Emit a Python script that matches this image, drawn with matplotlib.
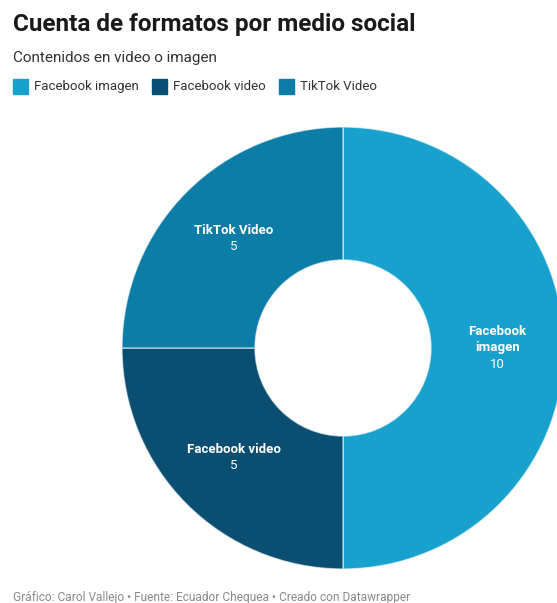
import matplotlib.pyplot as plt
import numpy as np
from matplotlib.patches import Rectangle

plt.rcParams['font.family'] = ['Roboto', 'DejaVu Sans']

# data
categories = ['Facebook imagen', 'Facebook video', 'TikTok Video']
values = [10, 5, 5]
colors = ['#18a1cd', '#0a4f72', '#0b7da7']
ring_labels = ['Facebook\nimagen', 'Facebook video', 'TikTok Video']

W, H = 557, 603
fig = plt.figure(figsize=(W / 100, H / 100), dpi=100)

# donut axes placed so center is at (343, 348) px with radius 221 px
cx, cy, R = 343, 348, 221
ax = fig.add_axes([(cx - R) / W, (H - cy - R) / H, 2 * R / W, 2 * R / H])

inner = 88 / R
wedges, _ = ax.pie(values, colors=colors, startangle=90, counterclock=False,
                   radius=1, wedgeprops=dict(width=1 - inner, edgecolor=(1, 1, 1, 0.6),
                                             linewidth=1.0))
ax.set_xlim(-1, 1)
ax.set_ylim(-1, 1)
ax.set_aspect('equal')
ax.axis('off')

mid_r = (1 + inner) / 2
step = 16 / R
for w, lab, v in zip(wedges, ring_labels, values):
    ang = np.deg2rad((w.theta1 + w.theta2) / 2)
    x, y = mid_r * np.cos(ang), mid_r * np.sin(ang)
    lines = lab.split('\n')
    n = len(lines) + 1
    for i, line in enumerate(lines):
        ax.text(x, y + step * ((n - 1) / 2 - i), line, ha='center', va='center',
                color='white', fontsize=9.5, fontweight='bold')
    ax.text(x, y + step * ((n - 1) / 2 - len(lines)), str(v), ha='center',
            va='center', color='white', fontsize=9.5)

# title, subtitle
fig.text(13 / W, 1 - 24 / H, 'Cuenta de formatos por medio social', ha='left',
         va='center', fontsize=17.5, fontweight='bold', color='#1a1a1a')
fig.text(13 / W, 1 - 58 / H, 'Contenidos en video o imagen', ha='left',
         va='center', fontsize=11, color='#333333')

# legend
lx = [13, 152, 279]
for x0, c, name in zip(lx, colors, categories):
    fig.patches.append(Rectangle((x0 / W, 1 - 94 / H), 15 / W, 15 / H,
                                 transform=fig.transFigure, color=c))
    fig.text((x0 + 21) / W, 1 - 86.5 / H, name, ha='left', va='center',
             fontsize=9.5, color='#333333')

# footer
fig.text(13 / W, 1 - 597 / H,
         'Gráfico: Carol Vallejo • Fuente: Ecuador Chequea • Creado con Datawrapper',
         ha='left', va='center', fontsize=8.6, color='#8a8a8a')

fig.savefig('out.png', dpi=100)
